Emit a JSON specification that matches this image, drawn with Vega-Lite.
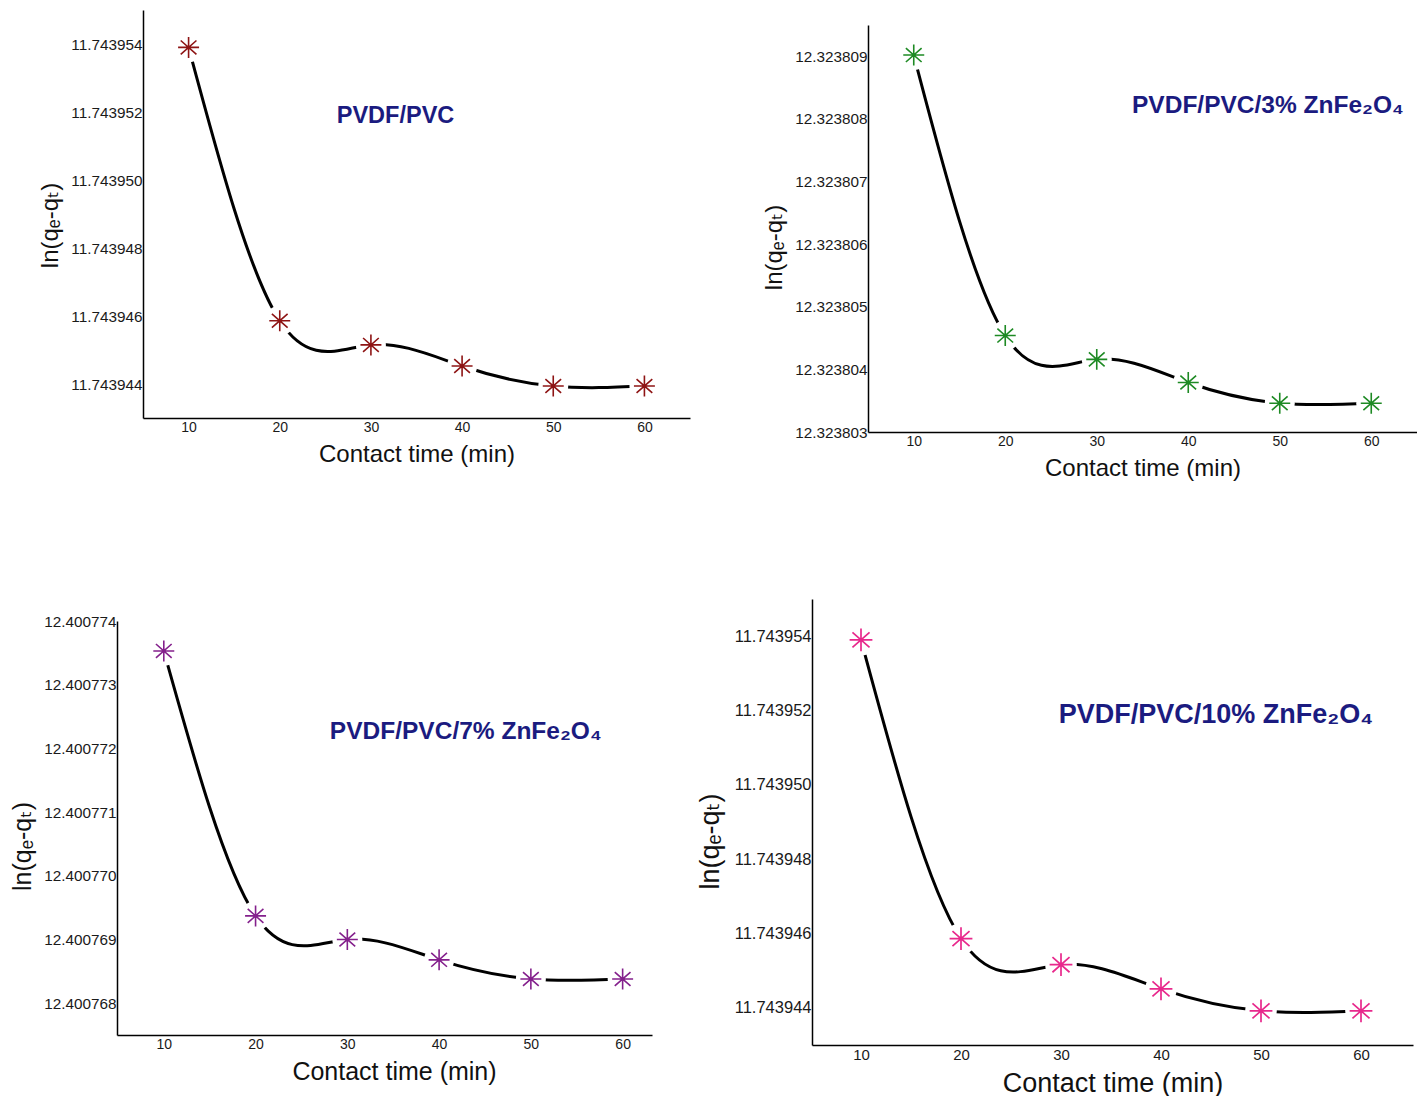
{
  "$schema": "https://vega.github.io/schema/vega-lite/v6.json",
  "background": "white",
  "padding": {"left": 10, "top": 10, "right": 0, "bottom": 0},
  "config": {
    "view": {"stroke": null},
    "font": "Liberation Sans, Arial, DejaVu Sans, sans-serif",
    "axis": {
      "grid": false,
      "ticks": false,
      "domainColor": "#000000",
      "domainWidth": 1.5,
      "labelColor": "#1a1a1a",
      "labelFont": "Liberation Sans, Arial, DejaVu Sans, sans-serif",
      "titleFont": "Liberation Sans, Arial, DejaVu Sans, sans-serif",
      "titleFontWeight": "normal",
      "titleColor": "#111111"
    }
  },
  "datasets": {
    "pvdf_pvc": [
      {"t": 10, "v": 11.7439539},
      {"t": 20, "v": 11.74394586},
      {"t": 30, "v": 11.74394515},
      {"t": 40, "v": 11.74394453},
      {"t": 50, "v": 11.74394394},
      {"t": 60, "v": 11.74394394}
    ],
    "zf3": [
      {"t": 10, "v": 12.32380902},
      {"t": 20, "v": 12.32380454},
      {"t": 30, "v": 12.32380416},
      {"t": 40, "v": 12.32380379},
      {"t": 50, "v": 12.32380346},
      {"t": 60, "v": 12.32380346}
    ],
    "zf7": [
      {"t": 10, "v": 12.40077353},
      {"t": 20, "v": 12.40076937},
      {"t": 30, "v": 12.400769},
      {"t": 40, "v": 12.40076868},
      {"t": 50, "v": 12.40076838},
      {"t": 60, "v": 12.40076838}
    ],
    "zf10": [
      {"t": 10, "v": 11.7439539},
      {"t": 20, "v": 11.74394586},
      {"t": 30, "v": 11.74394516},
      {"t": 40, "v": 11.74394451},
      {"t": 50, "v": 11.74394392},
      {"t": 60, "v": 11.74394392}
    ],
    "labels": [
      {"panel": "p1", "t": 32.7, "v": 11.74395188, "text": "PVDF/PVC"},
      {"panel": "p2", "t": 48.7, "v": 12.32380821, "text": "PVDF/PVC/3% ZnFe₂O₄"},
      {"panel": "p3", "t": 42.9, "v": 12.40077226, "text": "PVDF/PVC/7% ZnFe₂O₄"},
      {"panel": "p4", "t": 45.5, "v": 11.74395187, "text": "PVDF/PVC/10% ZnFe₂O₄"}
    ]
  },
  "columns": 2,
  "spacing": {"row": 143, "column": 90},
  "bounds": "flush",
  "align": "all",
  "concat": [
    {
      "width": 573,
      "height": 408,
      "encoding": {
        "x": {"field": "t", "type": "quantitative", "scale": {"domain": [5, 65], "nice": false, "range": [26, 573]},
              "axis": {"values": [10, 20, 30, 40, 50, 60], "labelFontSize": 14, "labelPadding": 2,
                       "title": "Contact time (min)", "titleFontSize": 24, "titlePadding": 8}},
        "y": {"field": "v", "type": "quantitative", "scale": {"domain": [11.743943, 11.743955], "nice": false, "zero": false},
              "axis": {"values": [11.743944, 11.743946, 11.743948, 11.74395, 11.743952, 11.743954], "format": ".6f",
                       "offset": -26, "labelFontSize": 15.3, "labelPadding": 1,
                       "title": "ln(qₑ-qₜ)", "titleFontSize": 24, "titlePadding": 8, "titleY": 215}}
      },
      "layer": [
        {"data": {"name": "pvdf_pvc"}, "mark": {"type": "line", "interpolate": "natural", "color": "#000000", "strokeWidth": 3}},
        {"data": {"name": "pvdf_pvc"}, "mark": {"type": "point", "shape": "circle", "filled": true, "color": "#ffffff", "opacity": 1, "size": 900}},
        {"data": {"name": "pvdf_pvc"}, "mark": {"type": "point", "shape": "M-1,0L1,0M0,-1L0,1M-0.75,-0.66L0.75,0.66M-0.75,0.66L0.75,-0.66", "filled": false, "color": "#8e1414", "strokeWidth": 1.6, "size": 440, "opacity": 1}},
        {"data": {"name": "labels"}, "transform": [{"filter": "datum.panel === 'p1'"}],
         "mark": {"type": "text", "fontSize": 23.5, "fontWeight": "bold", "color": "#1b1b80"},
         "encoding": {"text": {"field": "text"}}}
      ]
    },
    {
      "width": 605,
      "height": 422,
      "encoding": {
        "x": {"field": "t", "type": "quantitative", "scale": {"domain": [5, 65], "nice": false, "range": [56, 605]},
              "axis": {"values": [10, 20, 30, 40, 50, 60], "labelFontSize": 14, "labelPadding": 2,
                       "title": "Contact time (min)", "titleFontSize": 24, "titlePadding": 8}},
        "y": {"field": "v", "type": "quantitative", "scale": {"domain": [12.323803, 12.3238095], "nice": false, "zero": false, "range": [422, 15]},
              "axis": {"values": [12.323803, 12.323804, 12.323805, 12.323806, 12.323807, 12.323808, 12.323809], "format": ".6f",
                       "offset": -56, "labelFontSize": 15.3, "labelPadding": 1,
                       "title": "ln(qₑ-qₜ)", "titleFontSize": 24, "titlePadding": 8, "titleY": 237}}
      },
      "layer": [
        {"data": {"name": "zf3"}, "mark": {"type": "line", "interpolate": "natural", "color": "#000000", "strokeWidth": 3}},
        {"data": {"name": "zf3"}, "mark": {"type": "point", "shape": "circle", "filled": true, "color": "#ffffff", "opacity": 1, "size": 900}},
        {"data": {"name": "zf3"}, "mark": {"type": "point", "shape": "M-1,0L1,0M0,-1L0,1M-0.75,-0.66L0.75,0.66M-0.75,0.66L0.75,-0.66", "filled": false, "color": "#1e8a24", "strokeWidth": 1.6, "size": 440, "opacity": 1}},
        {"data": {"name": "labels"}, "transform": [{"filter": "datum.panel === 'p2'"}],
         "mark": {"type": "text", "fontSize": 24.5, "fontWeight": "bold", "color": "#1b1b80"},
         "encoding": {"text": {"field": "text"}}}
      ]
    },
    {
      "width": 535,
      "height": 436,
      "encoding": {
        "x": {"field": "t", "type": "quantitative", "scale": {"domain": [4.9, 63.2], "nice": false},
              "axis": {"values": [10, 20, 30, 40, 50, 60], "labelFontSize": 14, "labelPadding": 2,
                       "title": "Contact time (min)", "titleFontSize": 25, "titlePadding": 8, "titleX": 277}},
        "y": {"field": "v", "type": "quantitative", "scale": {"domain": [12.4007675, 12.400774], "nice": false, "zero": false, "range": [436, 22]},
              "axis": {"values": [12.400768, 12.400769, 12.40077, 12.400771, 12.400772, 12.400773, 12.400774], "format": ".6f",
                       "labelFontSize": 15.3, "labelPadding": 1,
                       "title": "ln(qₑ-qₜ)", "titleFontSize": 25, "titlePadding": 8, "titleY": 247}}
      },
      "layer": [
        {"data": {"name": "zf7"}, "mark": {"type": "line", "interpolate": "natural", "color": "#000000", "strokeWidth": 3}},
        {"data": {"name": "zf7"}, "mark": {"type": "point", "shape": "circle", "filled": true, "color": "#ffffff", "opacity": 1, "size": 900}},
        {"data": {"name": "zf7"}, "mark": {"type": "point", "shape": "M-1,0L1,0M0,-1L0,1M-0.75,-0.66L0.75,0.66M-0.75,0.66L0.75,-0.66", "filled": false, "color": "#84208c", "strokeWidth": 1.6, "size": 440, "opacity": 1}},
        {"data": {"name": "labels"}, "transform": [{"filter": "datum.panel === 'p3'"}],
         "mark": {"type": "text", "fontSize": 24.5, "fontWeight": "bold", "color": "#1b1b80"},
         "encoding": {"text": {"field": "text"}}}
      ]
    },
    {
      "width": 601,
      "height": 446,
      "encoding": {
        "x": {"field": "t", "type": "quantitative", "scale": {"domain": [5.1, 65.2], "nice": false},
              "axis": {"values": [10, 20, 30, 40, 50, 60], "labelFontSize": 15, "labelPadding": 2,
                       "title": "Contact time (min)", "titleFontSize": 27, "titlePadding": 8}},
        "y": {"field": "v", "type": "quantitative", "scale": {"domain": [11.743943, 11.743955], "nice": false, "zero": false},
              "axis": {"values": [11.743944, 11.743946, 11.743948, 11.74395, 11.743952, 11.743954], "format": ".6f",
                       "labelFontSize": 16.5, "labelPadding": 1,
                       "title": "ln(qₑ-qₜ)", "titleFontSize": 27, "titlePadding": 10, "titleY": 242}}
      },
      "layer": [
        {"data": {"name": "zf10"}, "mark": {"type": "line", "interpolate": "natural", "color": "#000000", "strokeWidth": 3}},
        {"data": {"name": "zf10"}, "mark": {"type": "point", "shape": "circle", "filled": true, "color": "#ffffff", "opacity": 1, "size": 1000}},
        {"data": {"name": "zf10"}, "mark": {"type": "point", "shape": "M-1,0L1,0M0,-1L0,1M-0.75,-0.66L0.75,0.66M-0.75,0.66L0.75,-0.66", "filled": false, "color": "#e8288c", "strokeWidth": 1.7, "size": 520, "opacity": 1}},
        {"data": {"name": "labels"}, "transform": [{"filter": "datum.panel === 'p4'"}],
         "mark": {"type": "text", "fontSize": 27, "fontWeight": "bold", "color": "#1b1b80"},
         "encoding": {"text": {"field": "text"}}}
      ]
    }
  ]
}
